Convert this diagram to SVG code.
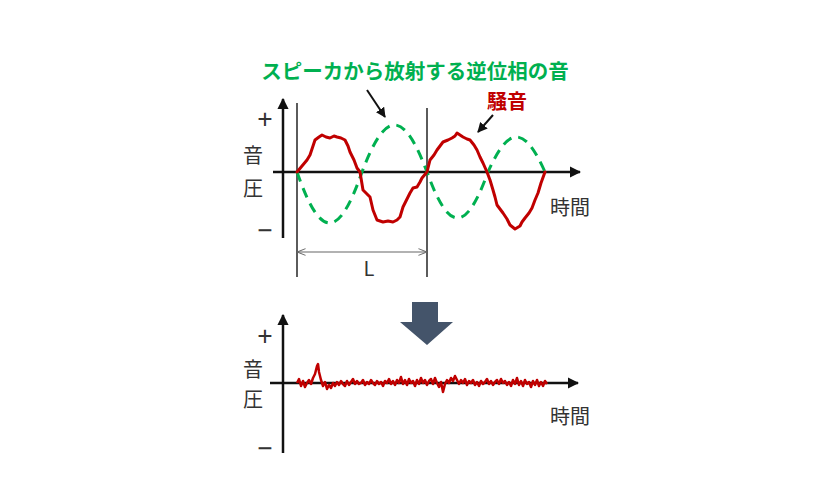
<svg xmlns="http://www.w3.org/2000/svg" width="840" height="500" viewBox="0 0 840 500">
<defs>
<style>
.lbl{font-family:"Noto Sans CJK JP","Noto Sans",sans-serif;fill:#333;font-size:20px}
.sign{font-family:"Noto Sans","DejaVu Sans",sans-serif;fill:#333;font-size:27px}
.axis{stroke:#111;stroke-width:2.5;fill:none}
.red{stroke:#C00000;stroke-width:3;fill:none;stroke-linejoin:round;stroke-linecap:round}
.green{stroke:#00B050;stroke-width:3;fill:none;stroke-dasharray:10 7}
.vline{stroke:#333;stroke-width:1.6}
.ann{stroke:#111;stroke-width:2;fill:none}
</style>
<marker id="ah" viewBox="0 0 10 10" refX="9" refY="5" markerWidth="5" markerHeight="5" orient="auto" markerUnits="strokeWidth"><path d="M0,0L10,5L0,10z" fill="#111"/></marker>
<marker id="axh" viewBox="0 0 10 10" refX="9" refY="5" markerWidth="4.5" markerHeight="4.5" orient="auto" markerUnits="strokeWidth"><path d="M0,0L10,5L0,10z" fill="#111"/></marker>
<marker id="dim" viewBox="0 0 10 10" refX="9" refY="5" markerWidth="7" markerHeight="7" orient="auto-start-reverse" markerUnits="strokeWidth"><path d="M0,1L10,5L0,9" fill="none" stroke="#666" stroke-width="1.2"/></marker>
</defs>
<rect width="840" height="500" fill="#fff"/>

<g id="top-chart">
<line class="axis" x1="283" y1="238" x2="283" y2="99" marker-end="url(#axh)"/>
<line class="axis" x1="273" y1="172" x2="580" y2="172" marker-end="url(#axh)"/>
<line class="vline" x1="297" y1="103" x2="297" y2="277"/>
<line class="vline" x1="427" y1="108" x2="427" y2="277"/>
<line x1="298" y1="252" x2="426" y2="252" stroke="#666" stroke-width="1.2" marker-start="url(#dim)" marker-end="url(#dim)"/>
<text class="lbl" x="369" y="276" text-anchor="middle" font-size="16">L</text>
<text class="sign" x="265" y="129" text-anchor="middle">+</text>
<text class="lbl" x="253" y="163" text-anchor="middle">音</text>
<text class="lbl" x="253" y="196" text-anchor="middle">圧</text>
<text class="sign" x="265" y="240" text-anchor="middle">−</text>
<text class="lbl" x="550" y="215">時間</text>
</g>

<g id="antiphase-wave">
<path class="green" d="M297,172 C320.7,240 338.3,240 362,172 C385.7,109.3 403.3,109.3 427,172 C449.2,233.3 465.8,233.3 488,172 C508.8,125.3 524.2,125.3 545,172"/>
</g>

<g id="noise-wave">
<path class="red" d="M297,172 L302,166 L307,160 L310,155 L313,146 L315,140 L319,137 L322,135 L326,137 L330,138 L334,136 L337,137 L341,138 L345,140 L348,146 L350,152 L354,160 L357,168 L360,172 L363,190 L367,194 L370,197 L373,210 L377,220 L383,222 L388,221 L393,222 L397,220 L400,217 L403,207 L407,199 L410,193 L413,188 L417,187 L420,182 L422,178 L427,172 L430,160 L434,155 L437,150 L440,146 L443,142 L448,140 L452,138 L455,136 L457,133 L460,135 L463,137 L467,139 L470,140 L474,145 L477,150 L480,157 L483,163 L487,172 L490,180 L493,190 L495,197 L497,205 L500,209 L503,213 L507,219 L510,225 L515,229 L520,226 L522,222 L525,218 L529,213 L532,208 L535,200 L538,193 L541,183 L545,172"/>
</g>

<g id="label-antiphase">
<text x="415" y="79" text-anchor="middle" font-family="'Noto Sans CJK JP','Noto Sans',sans-serif" font-size="20.5" font-weight="bold" fill="#00B050">スピーカから放射する逆位相の音</text>
</g>

<g id="label-noise">
<text x="507" y="109" text-anchor="middle" font-family="'Noto Sans CJK JP','Noto Sans',sans-serif" font-size="20" font-weight="bold" fill="#C00000">騒音</text>
</g>

<g id="connectors">
<line class="ann" x1="367" y1="90" x2="385" y2="117" marker-end="url(#ah)"/>
<line class="ann" x1="493" y1="115" x2="478" y2="132" marker-end="url(#ah)"/>
</g>

<g id="down-arrow">
<path d="M412,302 H438 V322 H453 L427,345 L400,322 H412 Z" fill="#44546A"/>
</g>

<g id="bottom-chart">
<line class="axis" x1="283" y1="453" x2="283" y2="315" marker-end="url(#axh)"/>
<line class="axis" x1="270" y1="383" x2="578" y2="383" marker-end="url(#axh)"/>
<text class="sign" x="265" y="346" text-anchor="middle">+</text>
<text class="lbl" x="253" y="377" text-anchor="middle">音</text>
<text class="lbl" x="253" y="407" text-anchor="middle">圧</text>
<text class="sign" x="265" y="458" text-anchor="middle">−</text>
<text class="lbl" x="550" y="424">時間</text>
</g>

<g id="residual-noise">
<path d="M297,383 L299,379 L301,386 L303,381 L305,387 L307,383 L309,380 L311,384 L313,378 L315,374 L317,366 L318,364 L319,372 L321,380 L323,386 L325,382 L327,389 L329,385 L331,388 L333,383 L335,386 L337,382 L339,385 L341,381 L343,384 L345,386 L347,381 L349,385 L351,382 L353,379 L355,384 L357,381 L359,384 L361,383 L363,380 L365,385 L367,382 L369,384 L371,380 L373,383 L375,385 L377,381 L379,384 L381,382 L383,386 L385,381 L387,383 L389,379 L391,384 L393,381 L395,385 L397,380 L399,383 L401,377 L403,384 L405,380 L407,385 L409,379 L411,383 L413,381 L415,386 L417,380 L419,384 L421,378 L423,383 L425,380 L427,385 L429,381 L431,379 L433,384 L435,378 L437,383 L439,387 L441,382 L443,392 L445,384 L447,380 L449,383 L451,378 L453,381 L455,376 L457,380 L459,384 L461,380 L463,383 L465,379 L467,385 L469,381 L471,383 L473,380 L475,385 L477,382 L479,386 L481,381 L483,384 L485,382 L487,379 L489,384 L491,381 L493,385 L495,382 L497,380 L499,384 L501,379 L503,383 L505,381 L507,385 L509,382 L511,386 L513,380 L515,384 L517,378 L519,385 L521,381 L523,386 L525,380 L527,384 L529,382 L531,387 L533,381 L535,385 L537,380 L539,386 L541,382 L543,386 L545,381 L547,384" fill="none" stroke="#C00000" stroke-width="2.5" stroke-linejoin="round"/>
</g>
</svg>
